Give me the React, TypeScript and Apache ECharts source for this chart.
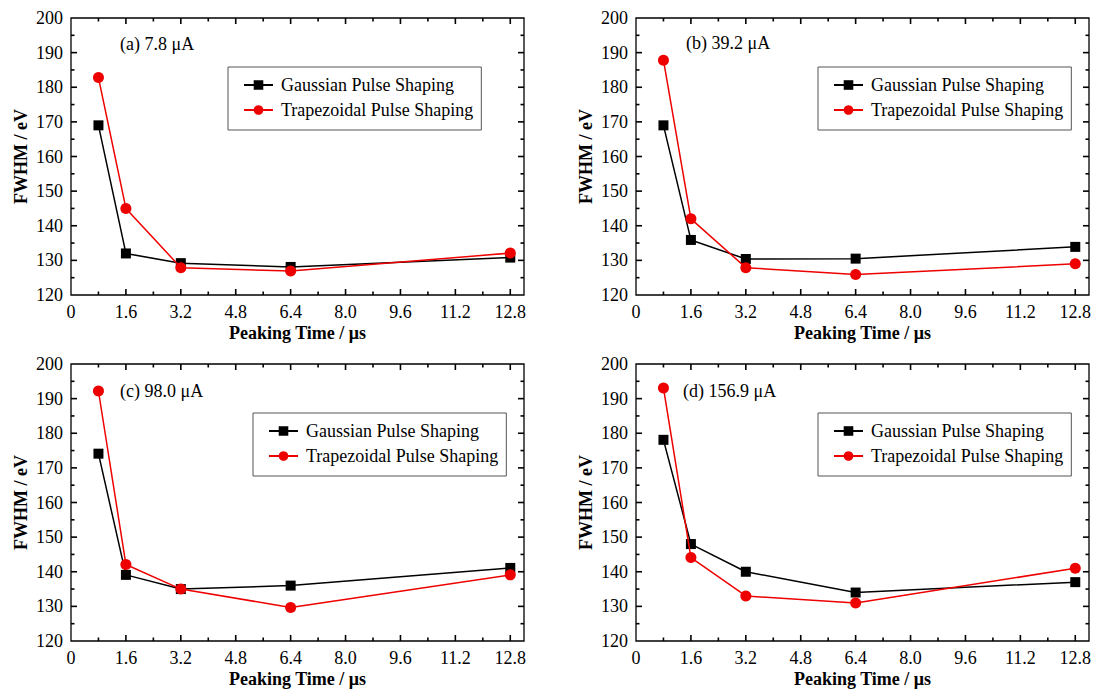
import React, { useEffect, useRef } from "react";
import * as echarts from "echarts";

const peakingTimes = [0.8, 1.6, 3.2, 6.4, 12.8];
const panelLabels = ["(a) 7.8 μA", "(b) 39.2 μA", "(c) 98.0 μA", "(d) 156.9 μA"];
const gaussA = [169, 132, 129.2, 128.1, 130.8];
const trapA = [182.8, 145, 127.9, 126.9, 132.1];
const gaussB = [169, 135.9, 130.4, 130.5, 133.9];
const trapB = [187.8, 142, 127.9, 125.9, 129];
const gaussC = [174.1, 139.1, 135, 136, 141.1];
const trapC = [192.2, 142.1, 135, 129.7, 139.1];
const gaussD = [178.1, 148, 140, 134, 137];
const trapD = [193.1, 144.1, 133, 131, 141];
const seriesNames = ["Gaussian Pulse Shaping", "Trapezoidal Pulse Shaping"];
const xTitle = "Peaking Time / μs";
const yTitle = "FWHM / eV";
const xMajorTicks = [1.6, 3.2, 4.8, 6.4, 8.0, 9.6, 11.2, 12.8];
const xMinorTicks = [0.8, 2.4, 4.0, 5.6, 7.2, 8.8, 10.4, 12.0];
const yMajorTicks = [130, 140, 150, 160, 170, 180, 190];
const yMinorTicks = [125, 135, 145, 155, 165, 175, 185, 195];
const X_MIN = 0;
const X_MAX = 13.2;
const Y_MIN = 120;
const Y_MAX = 200;

const FONT = '"Liberation Serif", "Times New Roman", serif';

const panels = [
  { g: gaussA, t: trapA, left: 71, top: 18, legL: 228, legT: 67, labX: 120, labY: 45 },
  { g: gaussB, t: trapB, left: 636, top: 18, legL: 818, legT: 67, labX: 686, labY: 44 },
  { g: gaussC, t: trapC, left: 71, top: 364, legL: 253, legT: 413, labX: 120, labY: 392 },
  { g: gaussD, t: trapD, left: 636, top: 364, legL: 818, legT: 413, labX: 683, labY: 392 },
];

export default function App() {
  const ref = useRef<HTMLDivElement>(null);
  useEffect(() => {
    if (!ref.current) return;
    const chart = echarts.init(ref.current, undefined, { renderer: "svg" });
    const W = 453;
    const H = 277;
    const grid: any[] = [];
    const xAxis: any[] = [];
    const yAxis: any[] = [];
    const series: any[] = [];
    const legend: any[] = [];
    const graphic: any[] = [];
    const tickStyle = { stroke: "#000", lineWidth: 1.6 };
    // x ticks: data [x, y(=Y_MIN), major]; y ticks: data [x(=X_MIN), y, major]
    const renderXTick = (params: any, api: any) => {
      const v = api.value(0);
      const len = api.value(2) === 1 ? 6 : 3.5;
      const b = api.coord([v, Y_MIN]);
      const t = api.coord([v, Y_MAX]);
      return {
        type: "group",
        children: [
          { type: "line", shape: { x1: b[0], y1: b[1], x2: b[0], y2: b[1] - len }, style: tickStyle },
          { type: "line", shape: { x1: t[0], y1: t[1], x2: t[0], y2: t[1] + len }, style: tickStyle },
        ],
      };
    };
    const renderYTick = (params: any, api: any) => {
      const v = api.value(1);
      const len = api.value(2) === 1 ? 6 : 3.5;
      const l = api.coord([X_MIN, v]);
      const r = api.coord([X_MAX, v]);
      return {
        type: "group",
        children: [
          { type: "line", shape: { x1: l[0], y1: l[1], x2: l[0] + len, y2: l[1] }, style: tickStyle },
          { type: "line", shape: { x1: r[0], y1: r[1], x2: r[0] - len, y2: r[1] }, style: tickStyle },
        ],
      };
    };
    const xTickData = [
      ...xMajorTicks.map((v) => [v, Y_MIN, 1]),
      ...xMinorTicks.map((v) => [v, Y_MIN, 0]),
    ];
    const yTickData = [
      ...yMajorTicks.map((v) => [X_MIN, v, 1]),
      ...yMinorTicks.map((v) => [X_MIN, v, 0]),
    ];
    panels.forEach((p, i) => {
      grid.push({
        left: p.left,
        top: p.top,
        width: W,
        height: H,
        show: true,
        borderColor: "#000",
        borderWidth: 1.3,
        backgroundColor: "transparent",
      });
      xAxis.push({
        type: "value",
        gridIndex: i,
        min: X_MIN,
        max: X_MAX,
        interval: 1.6,
        splitLine: { show: false },
        axisLine: { show: false },
        axisTick: { show: false },
        name: xTitle,
        nameLocation: "middle",
        nameGap: 29,
        nameTextStyle: { fontFamily: FONT, fontSize: 18, fontWeight: "bold", color: "#000" },
        axisLabel: {
          margin: 8,
          fontFamily: FONT,
          fontSize: 18,
          color: "#000",
          formatter: (v: number) => (v > 12.85 ? "" : v === 0 ? "0" : v.toFixed(1)),
        },
      });
      yAxis.push({
        type: "value",
        gridIndex: i,
        min: Y_MIN,
        max: Y_MAX,
        interval: 10,
        splitLine: { show: false },
        axisLine: { show: false },
        axisTick: { show: false },
        name: yTitle,
        nameLocation: "middle",
        nameGap: 41,
        nameTextStyle: { fontFamily: FONT, fontSize: 18, fontWeight: "bold", color: "#000" },
        axisLabel: { margin: 8, fontFamily: FONT, fontSize: 18, color: "#000" },
      });
      series.push({
        type: "custom",
        xAxisIndex: i,
        yAxisIndex: i,
        data: xTickData,
        encode: { x: 0, y: 1 },
        renderItem: renderXTick,
        clip: false,
        silent: true,
        z: 5,
      });
      series.push({
        type: "custom",
        xAxisIndex: i,
        yAxisIndex: i,
        data: yTickData,
        encode: { x: 0, y: 1 },
        renderItem: renderYTick,
        clip: false,
        silent: true,
        z: 5,
      });
      series.push({
        name: seriesNames[0],
        type: "line",
        xAxisIndex: i,
        yAxisIndex: i,
        data: peakingTimes.map((x, k) => [x, p.g[k]]),
        symbol: "rect",
        symbolSize: 10,
        itemStyle: { color: "#000" },
        lineStyle: { color: "#000", width: 1.5 },
        z: 2,
      });
      series.push({
        name: seriesNames[1],
        type: "line",
        xAxisIndex: i,
        yAxisIndex: i,
        data: peakingTimes.map((x, k) => [x, p.t[k]]),
        symbol: "circle",
        symbolSize: 11,
        itemStyle: { color: "#ee0000" },
        lineStyle: { color: "#ee0000", width: 1.5 },
        z: 3,
      });
      legend.push({
        data: seriesNames,
        orient: "vertical",
        left: p.legL,
        top: p.legT,
        align: "left",
        itemWidth: 29,
        itemHeight: 12,
        itemGap: 7,
        padding: [9, 8, 11, 15],
        borderColor: "#555",
        borderWidth: 1,
        backgroundColor: "#fff",
        selectedMode: false,
        textStyle: { fontFamily: FONT, fontSize: 18, color: "#000", padding: [0, 0, 0, 3] },
      });
      graphic.push({
        type: "text",
        left: p.labX,
        top: p.labY - 10,
        style: { text: panelLabels[i], font: `18px ${FONT}`, fill: "#000" },
      });
    });
    chart.setOption({
      animation: false,
      backgroundColor: "#fff",
      grid,
      xAxis,
      yAxis,
      series,
      legend,
      graphic,
    });
    return () => chart.dispose();
  }, []);
  return (
    <div
      ref={ref}
      style={{ position: "absolute", left: 0, top: 0, width: 1099, height: 693, background: "#fff" }}
    />
  );
}
